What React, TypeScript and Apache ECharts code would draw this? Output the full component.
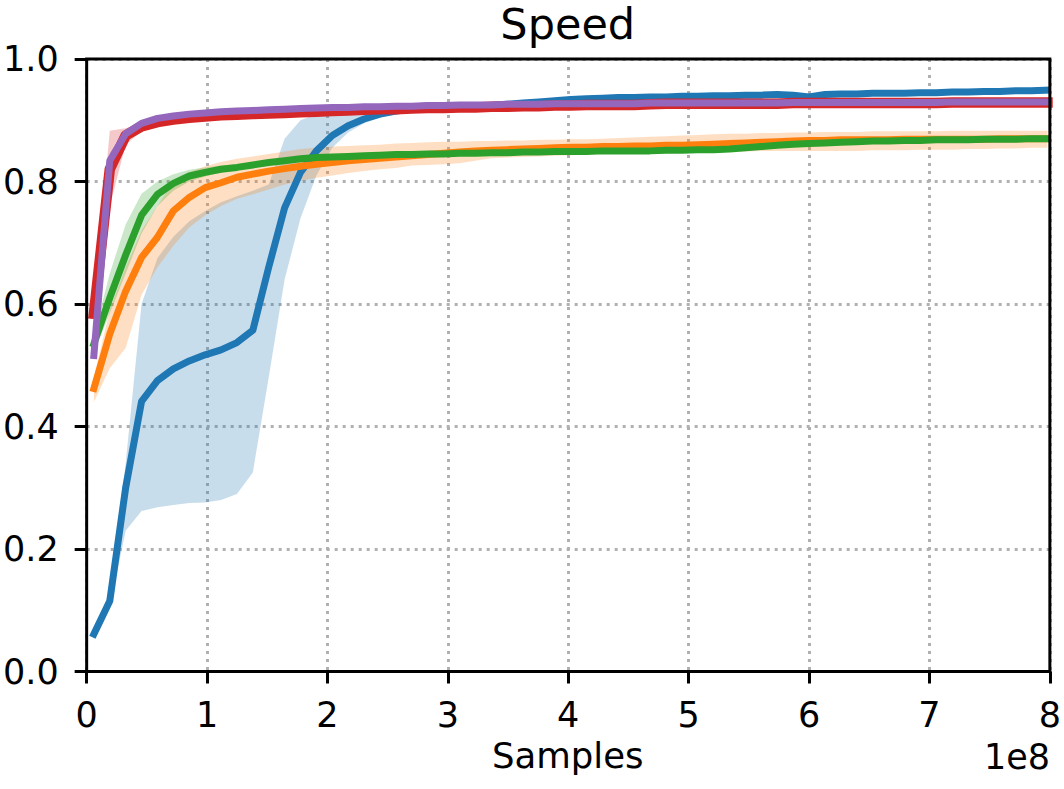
import React, { useEffect, useRef } from "react";
import * as echarts from "echarts";

// x positions in units of 1e8 samples
const SAMPLES = [
  0.06, 0.192, 0.324, 0.456, 0.588, 0.72, 0.852, 0.984, 1.116, 1.248,
  1.38, 1.512, 1.644, 1.776, 1.908, 2.04, 2.172, 2.304, 2.436, 2.568,
  2.7, 2.832, 2.964, 3.096, 3.228, 3.36, 3.492, 3.624, 3.756, 3.888,
  4.02, 4.152, 4.284, 4.416, 4.548, 4.68, 4.812, 4.944, 5.076, 5.208,
  5.34, 5.472, 5.604, 5.736, 5.868, 6.0, 6.132, 6.264, 6.396, 6.528,
  6.66, 6.792, 6.924, 7.056, 7.188, 7.32, 7.452, 7.584, 7.716, 7.848,
  7.98,
];

const X_TICKS = [0, 1, 2, 3, 4, 5, 6, 7, 8];
const Y_TICKS = [0.0, 0.2, 0.4, 0.6, 0.8, 1.0];

const BLUE = [
  0.061, 0.115, 0.300, 0.441, 0.475, 0.494, 0.507, 0.517, 0.525, 0.537,
  0.557, 0.660, 0.757, 0.815, 0.850, 0.875, 0.891, 0.902, 0.910, 0.915,
  0.918, 0.920, 0.921, 0.922, 0.923, 0.924, 0.926, 0.928, 0.930, 0.932,
  0.934, 0.935, 0.936, 0.937, 0.937, 0.938, 0.938, 0.939, 0.939, 0.940,
  0.940, 0.941, 0.941, 0.942, 0.941, 0.938, 0.942, 0.943, 0.943, 0.944,
  0.944, 0.944, 0.945, 0.945, 0.946, 0.946, 0.947, 0.947, 0.948, 0.948,
  0.949,
];
const BLUE_LO = [
  0.055, 0.105, 0.230, 0.262, 0.268, 0.272, 0.275, 0.276, 0.280, 0.290,
  0.325, 0.480, 0.640, 0.740, 0.810, 0.855, 0.880, 0.895, 0.904, 0.910,
  0.913, 0.916, 0.917, 0.918, 0.919, 0.920, 0.922, 0.924, 0.926, 0.928,
  0.930, 0.931, 0.932, 0.933, 0.933, 0.934, 0.934, 0.935, 0.935, 0.936,
  0.936, 0.937, 0.937, 0.938, 0.936, 0.933, 0.937, 0.939, 0.939, 0.940,
  0.940, 0.940, 0.941, 0.941, 0.942, 0.942, 0.943, 0.943, 0.944, 0.944,
  0.945,
];
const BLUE_HI = [
  0.068, 0.130, 0.340, 0.600, 0.675, 0.710, 0.735, 0.752, 0.766, 0.776,
  0.785, 0.795, 0.870, 0.900, 0.910, 0.916, 0.920, 0.923, 0.925, 0.926,
  0.927, 0.928, 0.928, 0.929, 0.929, 0.930, 0.931, 0.932, 0.934, 0.936,
  0.938, 0.939, 0.940, 0.941, 0.941, 0.942, 0.942, 0.943, 0.943, 0.944,
  0.944, 0.945, 0.945, 0.946, 0.945, 0.943, 0.946, 0.947, 0.947, 0.948,
  0.948, 0.948, 0.949, 0.949, 0.950, 0.950, 0.951, 0.951, 0.952, 0.952,
  0.953,
];

const ORANGE = [
  0.462, 0.551, 0.621, 0.676, 0.709, 0.752, 0.774, 0.790, 0.798, 0.807,
  0.812, 0.817, 0.821, 0.825, 0.828, 0.831, 0.834, 0.836, 0.838, 0.840,
  0.842, 0.844, 0.846, 0.848, 0.850, 0.851, 0.852, 0.853, 0.854, 0.855,
  0.856, 0.856, 0.857, 0.857, 0.858, 0.858, 0.859, 0.859, 0.860, 0.861,
  0.862, 0.863, 0.864, 0.865, 0.866, 0.867, 0.867, 0.868, 0.868, 0.868,
  0.868, 0.869, 0.869, 0.869, 0.869, 0.869, 0.869, 0.870, 0.870, 0.870,
  0.870,
];
const ORANGE_LO = [
  0.440, 0.495, 0.528, 0.615, 0.660, 0.695, 0.725, 0.745, 0.760, 0.772,
  0.779, 0.787, 0.795, 0.801, 0.806, 0.810, 0.814, 0.817, 0.820, 0.822,
  0.826, 0.827, 0.828, 0.830, 0.834, 0.838, 0.839, 0.840, 0.841, 0.842,
  0.843, 0.844, 0.845, 0.846, 0.847, 0.848, 0.848, 0.848, 0.849, 0.849,
  0.849, 0.849, 0.850, 0.850, 0.850, 0.850, 0.850, 0.850, 0.850, 0.851,
  0.851, 0.851, 0.852, 0.852, 0.852, 0.853, 0.853, 0.854, 0.854, 0.855,
  0.855,
];
const ORANGE_HI = [
  0.480, 0.590, 0.660, 0.720, 0.760, 0.800, 0.815, 0.825, 0.832, 0.837,
  0.841, 0.845, 0.849, 0.853, 0.855, 0.857, 0.858, 0.859, 0.860, 0.862,
  0.863, 0.864, 0.865, 0.865, 0.866, 0.866, 0.867, 0.867, 0.868, 0.868,
  0.869, 0.869, 0.870, 0.871, 0.872, 0.873, 0.874, 0.875, 0.876, 0.877,
  0.878, 0.878, 0.879, 0.879, 0.880, 0.880, 0.881, 0.881, 0.881, 0.882,
  0.882, 0.882, 0.882, 0.882, 0.883, 0.883, 0.883, 0.883, 0.883, 0.883,
  0.883,
];

const GREEN = [
  0.535, 0.610, 0.680, 0.745, 0.779, 0.797, 0.809, 0.815, 0.820, 0.823,
  0.827, 0.831, 0.834, 0.837, 0.839, 0.840, 0.841, 0.842, 0.843, 0.844,
  0.844, 0.845, 0.845, 0.846, 0.846, 0.847, 0.847, 0.848, 0.848, 0.849,
  0.849, 0.849, 0.850, 0.850, 0.850, 0.850, 0.851, 0.851, 0.852, 0.852,
  0.853, 0.855, 0.857, 0.859, 0.861, 0.862, 0.863, 0.864, 0.865, 0.866,
  0.866, 0.867, 0.867, 0.868, 0.868, 0.868, 0.869, 0.869, 0.869, 0.870,
  0.870,
];
const GREEN_LO = [
  0.520, 0.585, 0.650, 0.715, 0.760, 0.785, 0.800, 0.808, 0.815, 0.819,
  0.823, 0.827, 0.830, 0.833, 0.835, 0.836, 0.837, 0.838, 0.839, 0.840,
  0.840, 0.841, 0.841, 0.842, 0.842, 0.843, 0.843, 0.844, 0.844, 0.845,
  0.845, 0.845, 0.846, 0.846, 0.846, 0.846, 0.847, 0.847, 0.848, 0.848,
  0.849, 0.851, 0.853, 0.855, 0.857, 0.858, 0.859, 0.860, 0.861, 0.862,
  0.862, 0.863, 0.863, 0.864, 0.864, 0.864, 0.865, 0.865, 0.865, 0.866,
  0.866,
];
const GREEN_HI = [
  0.550, 0.650, 0.730, 0.780, 0.800, 0.812, 0.819, 0.823, 0.826, 0.828,
  0.831, 0.835, 0.838, 0.841, 0.843, 0.844, 0.845, 0.846, 0.847, 0.848,
  0.848, 0.849, 0.849, 0.850, 0.850, 0.851, 0.851, 0.852, 0.852, 0.853,
  0.853, 0.853, 0.854, 0.854, 0.854, 0.854, 0.855, 0.855, 0.856, 0.856,
  0.857, 0.859, 0.861, 0.863, 0.865, 0.866, 0.867, 0.868, 0.869, 0.870,
  0.870, 0.871, 0.871, 0.872, 0.872, 0.872, 0.873, 0.873, 0.873, 0.874,
  0.874,
];

const RED = [
  0.584, 0.820, 0.875, 0.890, 0.897, 0.901, 0.904, 0.906, 0.908, 0.909,
  0.910, 0.911, 0.912, 0.913, 0.914, 0.915, 0.916, 0.917, 0.918, 0.918,
  0.919, 0.920, 0.920, 0.921, 0.921, 0.922, 0.922, 0.923, 0.923, 0.924,
  0.924, 0.925, 0.925, 0.925, 0.925, 0.926, 0.927, 0.927, 0.927, 0.927,
  0.927, 0.927, 0.927, 0.927, 0.928, 0.928, 0.928, 0.928, 0.928, 0.928,
  0.928, 0.928, 0.928, 0.928, 0.929, 0.929, 0.929, 0.929, 0.929, 0.929,
  0.929,
];
const RED_LO = [
  0.560, 0.760, 0.860, 0.882, 0.892, 0.897, 0.900, 0.902, 0.904, 0.905,
  0.906, 0.907, 0.908, 0.909, 0.910, 0.911, 0.912, 0.913, 0.914, 0.914,
  0.915, 0.916, 0.916, 0.917, 0.917, 0.918, 0.918, 0.919, 0.919, 0.920,
  0.920, 0.921, 0.921, 0.921, 0.921, 0.922, 0.923, 0.923, 0.923, 0.923,
  0.923, 0.923, 0.923, 0.923, 0.924, 0.924, 0.924, 0.924, 0.924, 0.924,
  0.924, 0.924, 0.924, 0.924, 0.925, 0.925, 0.925, 0.925, 0.925, 0.925,
  0.925,
];
const RED_HI = [
  0.600, 0.883, 0.887, 0.895, 0.901, 0.905, 0.908, 0.910, 0.912, 0.913,
  0.914, 0.915, 0.916, 0.917, 0.918, 0.919, 0.920, 0.921, 0.922, 0.922,
  0.923, 0.924, 0.924, 0.925, 0.925, 0.926, 0.926, 0.927, 0.927, 0.928,
  0.928, 0.929, 0.929, 0.929, 0.929, 0.930, 0.931, 0.931, 0.931, 0.931,
  0.931, 0.931, 0.931, 0.931, 0.932, 0.932, 0.932, 0.932, 0.932, 0.932,
  0.932, 0.932, 0.932, 0.932, 0.933, 0.933, 0.933, 0.933, 0.933, 0.933,
  0.933,
];

const PURPLE = [
  0.516, 0.834, 0.878, 0.895, 0.903, 0.907, 0.910, 0.912, 0.914, 0.915,
  0.916, 0.917, 0.918, 0.919, 0.920, 0.921, 0.921, 0.922, 0.922, 0.923,
  0.923, 0.924, 0.924, 0.925, 0.925, 0.925, 0.926, 0.926, 0.926, 0.927,
  0.927, 0.927, 0.927, 0.927, 0.927, 0.928, 0.928, 0.928, 0.928, 0.928,
  0.928, 0.928, 0.928, 0.928, 0.929, 0.929, 0.929, 0.929, 0.929, 0.929,
  0.929, 0.929, 0.929, 0.929, 0.930, 0.930, 0.930, 0.930, 0.930, 0.930,
  0.930,
];
const PURPLE_LO = [
  0.505, 0.820, 0.872, 0.891, 0.900, 0.904, 0.907, 0.909, 0.911, 0.912,
  0.913, 0.914, 0.915, 0.916, 0.917, 0.918, 0.918, 0.919, 0.919, 0.920,
  0.920, 0.921, 0.921, 0.922, 0.922, 0.922, 0.923, 0.923, 0.923, 0.924,
  0.924, 0.924, 0.924, 0.924, 0.924, 0.925, 0.925, 0.925, 0.925, 0.925,
  0.925, 0.925, 0.925, 0.925, 0.926, 0.926, 0.926, 0.926, 0.926, 0.926,
  0.926, 0.926, 0.926, 0.926, 0.927, 0.927, 0.927, 0.927, 0.927, 0.927,
  0.927,
];
const PURPLE_HI = [
  0.527, 0.846, 0.884, 0.899, 0.906, 0.910, 0.913, 0.915, 0.917, 0.918,
  0.919, 0.920, 0.921, 0.922, 0.923, 0.924, 0.924, 0.925, 0.925, 0.926,
  0.926, 0.927, 0.927, 0.928, 0.928, 0.928, 0.929, 0.929, 0.929, 0.930,
  0.930, 0.930, 0.930, 0.930, 0.930, 0.931, 0.931, 0.931, 0.931, 0.931,
  0.931, 0.931, 0.931, 0.931, 0.932, 0.932, 0.932, 0.932, 0.932, 0.932,
  0.932, 0.932, 0.932, 0.932, 0.933, 0.933, 0.933, 0.933, 0.933, 0.933,
  0.933,
];

const FONT = "'DejaVu Sans', 'Liberation Sans', sans-serif";

type Run = { name: string; color: string; width: number; mean: number[]; lo: number[]; hi: number[] };

const RUNS: Run[] = [
  { name: "blue", color: "#1f77b4", width: 7, mean: BLUE, lo: BLUE_LO, hi: BLUE_HI },
  { name: "orange", color: "#ff7f0e", width: 7, mean: ORANGE, lo: ORANGE_LO, hi: ORANGE_HI },
  { name: "green", color: "#2ca02c", width: 7, mean: GREEN, lo: GREEN_LO, hi: GREEN_HI },
  { name: "red", color: "#d62728", width: 10.5, mean: RED, lo: RED_LO, hi: RED_HI },
  { name: "purple", color: "#9467bd", width: 7, mean: PURPLE, lo: PURPLE_LO, hi: PURPLE_HI },
];

function buildSeries(): any[] {
  const bands: any[] = [];
  const lines: any[] = [];
  RUNS.forEach((r) => {
    bands.push({
      type: "custom",
      name: r.name + "-band",
      silent: true,
      z: 1,
      data: SAMPLES.map((x, i) => [x, r.lo[i], r.hi[i]]),
      encode: { x: 0, y: [1, 2] },
      renderItem: (params: any, api: any) => {
        if (params.dataIndex !== 0) return null;
        const upper = SAMPLES.map((x, i) => api.coord([x, r.hi[i]]));
        const lower = SAMPLES.map((x, i) => api.coord([x, r.lo[i]])).reverse();
        return {
          type: "polygon",
          shape: { points: upper.concat(lower) },
          style: { fill: r.color, opacity: 0.25, stroke: null },
        };
      },
    });
    lines.push({
      type: "line",
      name: r.name,
      data: SAMPLES.map((x, i) => [x, r.mean[i]]),
      symbol: "none",
      silent: true,
      z: 3,
      lineStyle: { color: r.color, width: r.width, cap: "square", join: "round" },
    });
  });
  return [...bands, ...lines];
}

const GRID = { left: 85.5, right: 14, top: 59, bottom: 117.5 };

export default function App() {
  const ref = useRef<HTMLDivElement>(null);
  useEffect(() => {
    if (!ref.current) return;
    const chart = echarts.init(ref.current, null, { renderer: "svg" });
    const plotCenterX = GRID.left + (1064 - GRID.left - GRID.right) / 2;
    const option: any = {
      animation: false,
      backgroundColor: "#ffffff",
      textStyle: { fontFamily: FONT },
      grid: {
        ...GRID,
        show: true,
        z: 4,
        borderColor: "#000",
        borderWidth: 3,
        backgroundColor: "transparent",
      },
      xAxis: {
        type: "value",
        min: X_TICKS[0],
        max: X_TICKS[X_TICKS.length - 1],
        interval: 1,
        axisLine: { show: false },
        axisTick: { show: true, inside: false, length: 12, lineStyle: { color: "#000", width: 3 } },
        axisLabel: {
          fontSize: 35,
          color: "#000",
          margin: 26,
          fontFamily: FONT,
          formatter: (v: number) => String(Math.round(v)),
        },
        splitLine: { show: true, lineStyle: { color: "#b0b0b0", width: 3, type: [3, 5] } },
      },
      yAxis: {
        type: "value",
        min: Y_TICKS[0],
        max: Y_TICKS[Y_TICKS.length - 1],
        interval: 0.2,
        axisLine: { show: false },
        axisTick: { show: true, inside: false, length: 12, lineStyle: { color: "#000", width: 3 } },
        axisLabel: {
          fontSize: 35,
          color: "#000",
          margin: 28,
          fontFamily: FONT,
          formatter: (v: number) => v.toFixed(1),
        },
        splitLine: { show: true, lineStyle: { color: "#b0b0b0", width: 3, type: [3, 5] } },
      },
      graphic: [
        {
          type: "text",
          x: plotCenterX,
          y: 24,
          style: {
            text: "Speed",
            fontSize: 43,
            lineHeight: 43,
            fontFamily: FONT,
            fill: "#000",
            align: "center",
            verticalAlign: "middle",
          },
        },
        {
          type: "text",
          x: plotCenterX,
          y: 755,
          style: { text: "Samples", fontSize: 35.5, fontFamily: FONT, fill: "#000", align: "center", verticalAlign: "middle" },
        },
        {
          type: "text",
          x: 1050,
          y: 757,
          style: { text: "1e8", fontSize: 35, fontFamily: FONT, fill: "#000", align: "right", verticalAlign: "middle" },
        },
      ],
      series: buildSeries(),
    };
    chart.setOption(option);
    return () => chart.dispose();
  }, []);
  return (
    <div
      ref={ref}
      style={{ position: "absolute", left: 0, top: 0, width: 1064, height: 789, background: "#fff" }}
    />
  );
}
